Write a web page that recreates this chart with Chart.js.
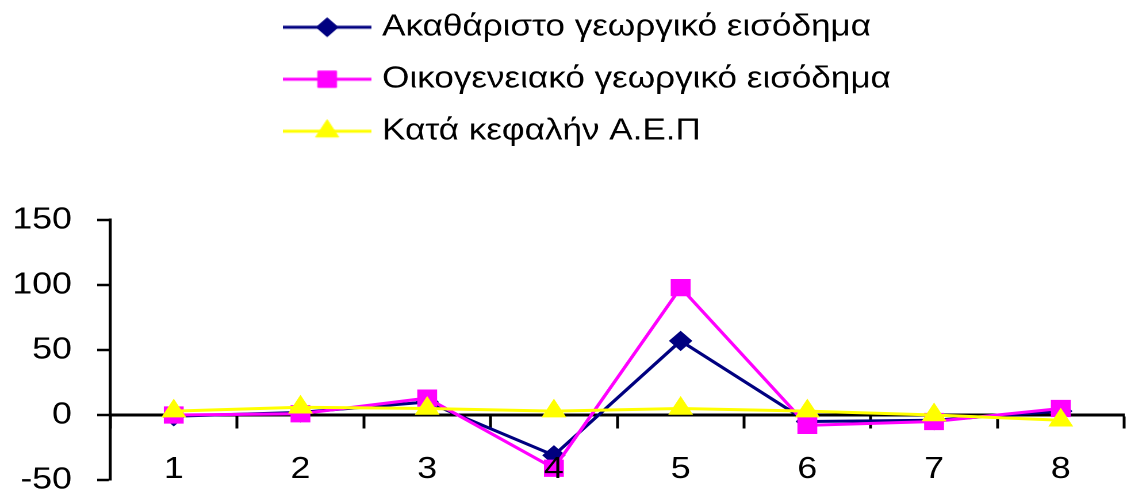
<!DOCTYPE html>
<html>
<head>
<meta charset="utf-8">
<script src="https://cdn.jsdelivr.net/npm/chart.js@4/dist/chart.umd.min.js"></script>
<style>
  html, body { margin: 0; padding: 0; background: #fff; width: 1132px; height: 495px; overflow: hidden; }
  #wrap { width: 990px; height: 495px; transform: scaleX(1.15); transform-origin: 0 0; }
  canvas { display: block; }
</style>
</head>
<body>
<div id="wrap"><canvas id="chart" width="990" height="495"></canvas></div>
<script>
// Categories and series
const categories = ['1', '2', '3', '4', '5', '6', '7', '8'];
const grossIncome = [-1, 2, 10, -31, 57, -5, -4, 3];
const familyIncome = [0, 1, 13, -41, 98, -8, -5, 5];
const gdpPerCapita = [3, 6, 5, 3, 5, 3, 0, -4];
const seriesNames = ['Ακαθάριστο γεωργικό εισόδημα', 'Οικογενειακό γεωργικό εισόδημα', 'Κατά κεφαλήν Α.Ε.Π'];
const yTicks = { min: -50, max: 150, step: 50 };

const FONT = "'Liberation Sans', Arial, sans-serif";

const styles = [
  { color: '#000080', pointStyle: 'rectRot', radius: 9.5 },
  { color: '#FF00FF', pointStyle: 'rect', radius: 11.5 },
  { color: '#FFFF00', pointStyle: 'triangle', radius: 11.5 }
];

// Legend symbols: a short line with the series marker in its middle
function makeLegendIcon(st) {
  const c = document.createElement('canvas');
  c.width = 77; c.height = 28;
  const ctx = c.getContext('2d');
  ctx.strokeStyle = st.color;
  ctx.lineWidth = 3;
  ctx.beginPath();
  ctx.moveTo(0, 14); ctx.lineTo(77, 14);
  ctx.stroke();
  ctx.fillStyle = st.color;
  ctx.lineWidth = 1;
  Chart.helpers.drawPoint(ctx, { pointStyle: st.pointStyle, radius: st.radius, borderWidth: 1, rotation: 0 }, 38.5, 14);
  return c;
}
const legendIcons = styles.map(makeLegendIcon);

// Places the stacked legend above the plot
const legendPlacer = {
  id: 'legendPlacer',
  beforeDraw(chart) {
    const lg = chart.legend;
    const pad = lg.options.labels.padding;
    lg.left = 252 - pad;
    lg.top = 12 - pad;
    lg.width = 720;
    lg.height = 220;
    lg.right = lg.left + lg.width;
    lg.bottom = lg.top + lg.height;
  }
};

const seriesData = [grossIncome, familyIncome, gdpPerCapita];
const datasets = seriesData.map((d, i) => ({
  label: seriesNames[i],
  data: d,
  borderColor: styles[i].color,
  backgroundColor: styles[i].color,
  pointBackgroundColor: styles[i].color,
  pointBorderColor: styles[i].color,
  pointStyle: styles[i].pointStyle,
  pointRadius: styles[i].radius,
  pointBorderWidth: 1,
  borderWidth: 3,
  tension: 0,
  clip: false,
  order: 2 - i
}));

new Chart(document.getElementById('chart'), {
  type: 'line',
  data: { labels: categories, datasets },
  options: {
    responsive: false,
    animation: false,
    devicePixelRatio: 2,
    layout: { padding: { top: 220, bottom: 15, left: 0, right: 1 } },
    plugins: {
      tooltip: { enabled: false },
      legend: {
        position: 'chartArea',
        align: 'start',
        labels: {
          font: { family: FONT, size: 30.5 },
          color: '#000',
          usePointStyle: true,
          pointStyleWidth: 65,
          padding: 21.5,
          sort: (a, b) => a.datasetIndex - b.datasetIndex,
          generateLabels(chart) {
            const items = Chart.defaults.plugins.legend.labels.generateLabels(chart);
            items.forEach(it => { it.pointStyle = legendIcons[it.datasetIndex]; });
            return items;
          }
        }
      }
    },
    scales: {
      // category axis crossing at zero; its labels sit near the bottom, above the series
      x: {
        type: 'category',
        position: { y: 0 },
        offset: true,
        afterFit(s) { s.height = 0; },
        grid: {
          offset: true,
          drawOnChartArea: false,
          drawTicks: true,
          tickLength: 12,
          tickColor: '#000',
          tickWidth: 2.5
        },
        border: { display: true, color: '#000', width: 3 },
        ticks: {
          z: 1,
          font: { family: FONT, size: 31 },
          color: '#000',
          padding: 24,
          maxRotation: 0,
          autoSkip: false
        }
      },
      y: {
        position: 'left',
        min: yTicks.min,
        max: yTicks.max,
        afterFit(s) { s.width = 96; s.paddingTop = 0; s.paddingBottom = 0; },
        grid: {
          drawOnChartArea: false,
          drawTicks: true,
          tickLength: 11.5,
          tickColor: '#000',
          tickWidth: 2.5
        },
        border: { display: true, color: '#000', width: 2.6 },
        ticks: {
          stepSize: yTicks.step,
          font: { family: FONT, size: 31 },
          color: '#000',
          padding: 22
        }
      }
    }
  },
  plugins: [legendPlacer]
});
</script>
</body>
</html>
